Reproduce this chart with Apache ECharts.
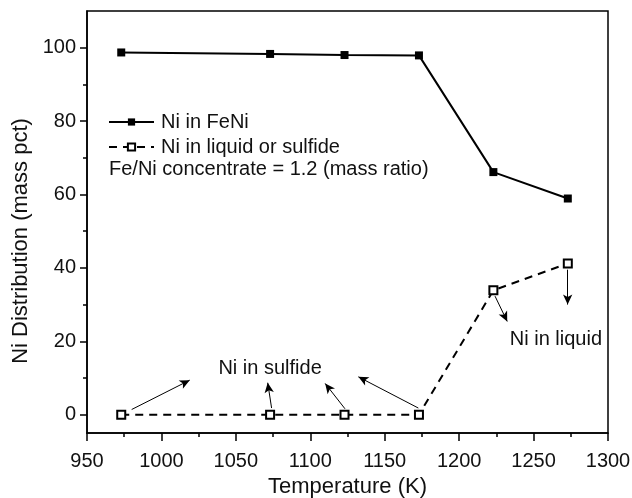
<!DOCTYPE html>
<html>
<head>
<meta charset="utf-8">
<script src="https://cdn.jsdelivr.net/npm/echarts@6/dist/echarts.min.js"></script>
<style>html,body{margin:0;padding:0;background:#fff}#c{width:632px;height:498px}</style>
</head>
<body>
<div id="c"></div>
<script>
const temps = [973, 1073, 1123, 1173, 1223, 1273];
const feniVals = [98.7, 98.3, 98.0, 97.9, 66.1, 58.9];
const liquidVals = [0, 0, 0, 0, 33.9, 41.2];
const yMajorTicks = [0, 20, 40, 60, 80, 100];
const yMinorTicks = [10, 30, 50, 70, 90];
// annotation arrows: [x1, y1, x2, y2] in data units (start -> arrow head)
const arrows = [
  [980, 1.4, 1019, 9.4],
  [1074, 1.8, 1071.4, 8.7],
  [1123.3, 1.6, 1110, 8.5],
  [1172.6, 1.8, 1132.3, 10.3],
  [1224.1, 32.3, 1232.3, 25.4],
  [1272.9, 39.5, 1272.9, 30]
];
const annotations = [
  [1073, 12.6, 'Ni in sulfide'],
  [1265, 20.5, 'Ni in liquid']
];
const seriesNames = ['Ni in FeNi', 'Ni in liquid or sulfide'];
const noteText = 'Fe/Ni concentrate = 1.2 (mass ratio)';

const FONT = 'Liberation Sans, Arial, sans-serif';
const TXT = '#111';
const chart = echarts.init(document.getElementById('c'), null, {renderer: 'canvas'});
const zip = (xs, ys) => xs.map((x, i) => [x, ys[i]]);

chart.setOption({
  animation: false,
  backgroundColor: '#fff',
  grid: {left: 87, right: 24, top: 11, bottom: 65, outerBoundsMode: 'none', containLabel: false,
         show: true, borderColor: '#000', borderWidth: 1.5, backgroundColor: 'transparent'},
  legend: {
    data: seriesNames,
    orient: 'vertical',
    left: 108, top: 112, padding: 0,
    itemWidth: 45, itemHeight: 9, itemGap: 5,
    textStyle: {fontSize: 20, fontFamily: FONT, color: TXT, padding: [0, 0, 0, 2]},
    selectedMode: false
  },
  graphic: [{
    type: 'text', left: 109, top: 159,
    style: {text: noteText, fontSize: 20, fontFamily: FONT, fill: TXT}
  }],
  xAxis: {
    type: 'value', min: 950, max: 1300, interval: 50,
    name: 'Temperature (K)', nameLocation: 'middle', nameGap: 43,
    nameTextStyle: {fontSize: 22, fontFamily: FONT, color: TXT},
    axisLine: {onZero: false, lineStyle: {color: '#000', width: 1.5}},
    axisTick: {show: true, length: 8, lineStyle: {color: '#000', width: 1.5}},
    minorTick: {show: true, splitNumber: 2, length: 4, lineStyle: {color: '#000', width: 1.5}},
    axisLabel: {fontSize: 20, fontFamily: FONT, color: TXT, margin: 18, formatter: v => String(v)},
    splitLine: {show: false}
  },
  yAxis: [{
    type: 'value', min: -5, max: 110,
    name: 'Ni Distribution (mass pct)', nameLocation: 'middle', nameGap: 53,
    nameTextStyle: {fontSize: 22, fontFamily: FONT, color: TXT, padding: [0, 38, 0, 0]},
    axisLine: {onZero: false, lineStyle: {color: '#000', width: 1.5}},
    axisTick: {show: true, length: 7, customValues: yMajorTicks, lineStyle: {color: '#000', width: 1.5}},
    axisLabel: {fontSize: 20, fontFamily: FONT, color: TXT, margin: 11, customValues: yMajorTicks},
    splitLine: {show: false}
  }, {
    type: 'value', min: -5, max: 110, position: 'left',
    axisLine: {show: false, onZero: false},
    axisTick: {show: true, length: 4, customValues: yMinorTicks, lineStyle: {color: '#000', width: 1.5}},
    axisLabel: {show: false, customValues: yMinorTicks},
    splitLine: {show: false}
  }],
  series: [{
    name: seriesNames[0], type: 'line', data: zip(temps, feniVals),
    symbol: 'rect', symbolSize: 8,
    lineStyle: {color: '#000', width: 2},
    itemStyle: {color: '#000'},
    z: 3
  }, {
    name: seriesNames[1], type: 'line', data: zip(temps, liquidVals),
    symbol: 'emptyRect', symbolSize: 8,
    lineStyle: {color: '#000', width: 2, type: [8, 6]},
    itemStyle: {color: '#000', borderWidth: 1.5},
    z: 3,
    markLine: {
      silent: true, symbol: ['none', 'arrow'], symbolSize: [7, 10], precision: 3,
      label: {show: false},
      lineStyle: {color: '#000', width: 1, type: 'solid'},
      data: arrows.map(a => [{coord: [a[0], a[1]]}, {coord: [a[2], a[3]]}])
    }
  }, {
    type: 'scatter', data: annotations, symbolSize: 0, silent: true,
    itemStyle: {opacity: 1, color: '#000'},
    label: {show: true, position: 'inside', opacity: 1, formatter: p => p.data[2], fontSize: 20, fontFamily: FONT, color: TXT, textBorderWidth: 0}
  }]
});
</script>
</body>
</html>
